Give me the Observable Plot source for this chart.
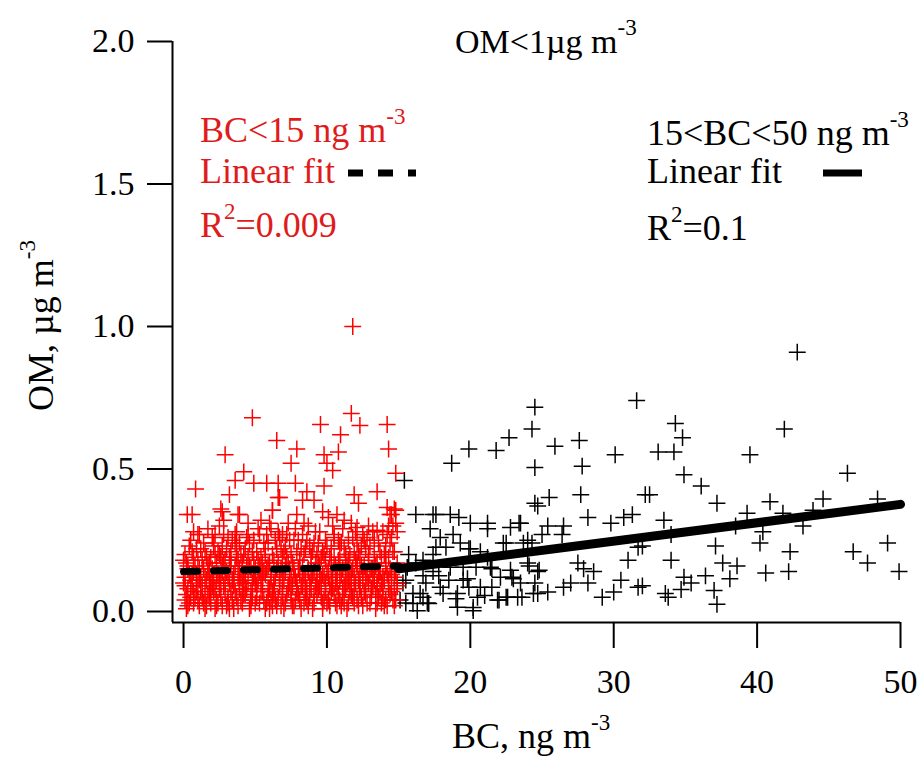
<!DOCTYPE html>
<html><head><meta charset="utf-8">
<script src="https://cdn.jsdelivr.net/npm/d3@7"></script>
<script src="https://cdn.jsdelivr.net/npm/@observablehq/plot@0.6"></script>
<style>body{margin:0;background:#fff;} svg{display:block;}</style>
</head><body><div id="chart"></div>
<script>
// ---- data (BC ng m-3, OM ug m-3) ----
const xTicks = [0, 10, 20, 30, 40, 50];
const yTicks = [0.0, 0.5, 1.0, 1.5, 2.0];

// red group (BC < 15): high points
const redHigh = [[11.8,1.0],[4.8,0.68],[11.7,0.695],[12.3,0.653],[9.55,0.656],[14.2,0.656],[10.95,0.62],[6.5,0.60],[7.9,0.57],[9.8,0.55],[14.3,0.57],[2.9,0.55],[10.8,0.56],[7.5,0.52],[10.0,0.52],[4.2,0.49],[10.4,0.495],[14.8,0.485],[0.84,0.43],[3.6,0.46],[4.9,0.45],[5.8,0.45],[6.6,0.45],[7.8,0.45],[8.6,0.42],[9.8,0.44],[11.9,0.41],[13.5,0.42],[3.2,0.41],[6.6,0.40],[8.3,0.39],[9.1,0.39],[12.2,0.38],[0.26,0.34],[2.6,0.36],[3.8,0.34],[6.2,0.355],[7.9,0.34],[9.7,0.35],[10.7,0.34],[14.2,0.365],[14.8,0.355],[14.4,0.34],[0.7,0.28],[2.8,0.32],[5.4,0.32],[8.4,0.31],[11.2,0.32],[12.1,0.295],[13.5,0.285],[0.6,0.34],[2.7,0.35],[3.9,0.34],[6.7,0.40],[6.2,0.355],[1.0,0.27],[2.2,0.27],[3.6,0.27],[6.0,0.31],[6.9,0.27]];
// red group: dense band, columns of [BC, [OM...]]
const redBand = [
[0.1,[0.04,0.12,0.20,0.09]],[0.3,[0.08,0.16,0.02,0.15]],[0.5,[0.11,0.05,0.25]],[0.7,[0.14,0.03,0.19,0.07]],
[0.9,[0.07,0.22,0.10,0.13]],[1.1,[0.02,0.15,0.27,0.11]],[1.3,[0.09,0.18,0.05]],[1.5,[0.12,0.21,0.01,0.06]],
[1.7,[0.06,0.16,0.29,0.14]],[1.9,[0.10,0.03,0.19,0.08]],[2.1,[0.13,0.24,0.07,0.23]],[2.3,[0.04,0.17,0.11,0.02]],
[2.5,[0.20,0.08,0.30,0.12]],[2.7,[0.02,0.14,0.23,0.16]],[2.9,[0.10,0.18,0.06]],[3.1,[0.12,0.26,0.03,0.05]],
[3.3,[0.07,0.16,0.21,0.18]],[3.5,[0.01,0.13,0.09,0.11]],[3.7,[0.19,0.05,0.28,0.23]],[3.9,[0.11,0.15,0.24,0.08]],
[4.1,[0.03,0.08,0.17,0.14]],[4.3,[0.13,0.22,0.06,0.10]],[4.5,[0.10,0.19,0.31,0.27]],[4.7,[0.02,0.15,0.07,0.04]],
[4.9,[0.12,0.25,0.18,0.13]],[5.1,[0.05,0.09,0.21,0.08]],[5.3,[0.14,0.03,0.27,0.16]],[5.5,[0.11,0.17,0.07,0.12]],
[5.7,[0.01,0.20,0.13,0.22]],[5.9,[0.08,0.24,0.16,0.05]],[6.1,[0.04,0.12,0.29,0.11]],[6.3,[0.10,0.18,0.06,0.09]],
[6.5,[0.15,0.02,0.22,0.15]],[6.7,[0.09,0.26,0.13,0.11]],[6.9,[0.05,0.19,0.11,0.07]],[7.1,[0.14,0.03,0.23,0.16]],
[7.3,[0.08,0.17,0.31,0.09]],[7.5,[0.12,0.06,0.20,0.04]],[7.7,[0.02,0.15,0.25,0.13]],[7.9,[0.10,0.21,0.07,0.08]],
[8.1,[0.13,0.04,0.18,0.18]],[8.3,[0.09,0.27,0.16,0.11]],[8.5,[0.05,0.11,0.22,0.07]],[8.7,[0.15,0.02,0.30,0.14]],
[8.9,[0.08,0.19,0.12,0.19]],[9.1,[0.03,0.14,0.24,0.06]],[9.3,[0.11,0.20,0.06,0.10]],[9.5,[0.16,0.09,0.28,0.13]],
[9.7,[0.01,0.13,0.21,0.03]],[9.9,[0.07,0.18,0.25,0.10]],[10.1,[0.12,0.04,0.33,0.15]],[10.3,[0.10,0.16,0.22,0.07]],
[10.5,[0.06,0.19,0.27,0.26]],[10.7,[0.14,0.02,0.09,0.12]],[10.9,[0.11,0.23,0.17,0.04]],[11.1,[0.05,0.15,0.29,0.08]],
[11.3,[0.13,0.08,0.20,0.19]],[11.5,[0.03,0.18,0.25,0.11]],[11.7,[0.10,0.14,0.31,0.06]],[11.9,[0.07,0.21,0.12,0.03]],
[12.1,[0.16,0.04,0.24,0.17]],[12.3,[0.09,0.19,0.13,0.08]],[12.5,[0.02,0.11,0.27,0.14]],[12.7,[0.14,0.06,0.22,0.12]],
[12.9,[0.10,0.18,0.30,0.20]],[13.1,[0.05,0.15,0.08,0.07]],[13.3,[0.12,0.25,0.19,0.11]],[13.5,[0.03,0.10,0.17,0.09]],
[13.7,[0.14,0.21,0.07,0.14]],[13.9,[0.09,0.28,0.12,0.05]],[14.1,[0.04,0.16,0.23,0.17]],[14.3,[0.11,0.19,0.30,0.08]],
[14.5,[0.07,0.14,0.26,0.34,0.13]],[14.7,[0.02,0.12,0.21,0.36,0.08]],[14.9,[0.09,0.17,0.28,0.10]],
[0.2,[0.06,0.17,0.01]],[0.6,[0.09,0.21,0.13]],[1.0,[0.04,0.18,0.09]],[1.4,[0.15,0.24,0.03]],
[1.8,[0.11,0.05,0.17]],[2.2,[0.08,0.20,0.01]],[2.6,[0.05,0.19,0.10]],[3.0,[0.14,0.22,0.02]],
[3.4,[0.04,0.11,0.25]],[3.8,[0.12,0.02,0.18]],[4.2,[0.06,0.20,0.11]],[4.6,[0.16,0.24,0.01]],
[5.0,[0.03,0.15,0.10]],[5.4,[0.07,0.19,0.13]],[5.8,[0.03,0.15,0.27]],[6.2,[0.07,0.20,0.02]],
[6.6,[0.05,0.17,0.28]],[7.0,[0.01,0.11,0.21]],[7.4,[0.10,0.15,0.25]],[7.8,[0.04,0.12,0.29]],
[8.2,[0.01,0.09,0.22]],[8.6,[0.08,0.25,0.04]],[9.0,[0.13,0.21,0.01]],[9.4,[0.08,0.17,0.24]],
[9.8,[0.04,0.12,0.20]],[10.2,[0.02,0.09,0.19]],[10.6,[0.10,0.16,0.03]],[11.0,[0.02,0.13,0.24]],
[11.4,[0.10,0.16,0.01]],[11.8,[0.05,0.15,0.26]],[12.2,[0.02,0.11,0.21]],[12.6,[0.07,0.16,0.25]],
[13.0,[0.03,0.13,0.23]],[13.4,[0.06,0.16,0.01]],[13.8,[0.03,0.10,0.19]],[14.2,[0.02,0.13,0.27]],
[14.6,[0.04,0.21,0.30]],
[0.0,[0.10,0.18]],[0.4,[0.03,0.13,0.23]],[0.8,[0.16,0.05]],[1.2,[0.12,0.22,0.07]],[1.6,[0.02,0.19,0.11]],
[2.0,[0.15,0.09,0.26]],[2.4,[0.03,0.13,0.21]],[2.8,[0.09,0.17,0.27]],[3.2,[0.01,0.10,0.19]],[3.6,[0.07,0.16,0.24]],
[4.0,[0.12,0.20,0.04]],[4.4,[0.08,0.16,0.26]],[4.8,[0.05,0.10,0.21]],[5.2,[0.11,0.18,0.29]],[5.6,[0.04,0.14,0.24]],
[6.0,[0.08,0.17,0.01]],[6.4,[0.12,0.25,0.04]],[6.8,[0.02,0.15,0.22]],[7.2,[0.06,0.19,0.27]],[7.6,[0.09,0.17,0.02]],
[8.0,[0.06,0.15,0.25]],[8.4,[0.03,0.13,0.20]],[8.8,[0.10,0.23,0.05]],[9.2,[0.09,0.17,0.28]],[9.6,[0.05,0.19,0.11]],
[10.0,[0.03,0.14,0.23]],[10.4,[0.08,0.13,0.30]],[10.8,[0.06,0.18,0.25]],[11.2,[0.09,0.22,0.03]],[11.6,[0.07,0.12,0.20]],
[12.0,[0.10,0.18,0.28]],[12.4,[0.05,0.16,0.23]],[12.8,[0.03,0.12,0.26]],[13.2,[0.09,0.15,0.28]],[13.6,[0.05,0.13,0.24]],
[14.0,[0.02,0.11,0.20]],[14.4,[0.06,0.15,0.24]],[14.8,[0.04,0.14,0.31]]
];
// black group (15 < BC < 50)
const blackPts = [[24.5,0.717],[31.6,0.74],[24.3,0.64],[22.7,0.61],[19.9,0.57],[21.8,0.565],[25.9,0.58],[27.6,0.60],[30.1,0.55],[18.7,0.52],[24.5,0.505],[27.8,0.51],[15.4,0.46],[32.2,0.41],[25.5,0.40],[24.7,0.37],[27.7,0.41],[31.3,0.34],
[42.8,0.91],[34.3,0.66],[34.8,0.61],[33.1,0.56],[34.2,0.56],[41.9,0.64],[39.5,0.55],[34.9,0.48],[36.1,0.44],[32.5,0.41],[46.3,0.485],[37.2,0.38],[40.9,0.385],[44.6,0.395],[48.4,0.395],[39.3,0.345],[41.8,0.345],[43.9,0.355],[33.5,0.32],[38.5,0.30],[43.2,0.30],[34.0,0.27],[40.4,0.28],[37.1,0.23],[40.2,0.24],[49.1,0.24],[42.3,0.21],[46.7,0.21],[47.7,0.17],[34.0,0.18],[37.6,0.17],[38.6,0.16],[49.9,0.14],[40.6,0.135],[42.2,0.14],[34.9,0.12],[36.4,0.125],[38.1,0.115],[35.4,0.10],[34.7,0.077],[33.6,0.063],[33.8,0.05],[37.0,0.074],[37.2,0.025],[32.0,0.23],[32.0,0.09],
[16.2,0.34],[17.4,0.34],[18.6,0.34],[19.2,0.33],[20.0,0.31],[21.2,0.31],[23.4,0.31],[28.2,0.33],[17.2,0.29],[25.4,0.30],[26.5,0.30],[29.8,0.31],[30.7,0.33],[17.9,0.26],[21.2,0.29],[22.8,0.295],[24.0,0.25],[26.4,0.27],[19.3,0.24],[20.0,0.22],[22.3,0.24],[15.7,0.20],[16.7,0.18],[31.7,0.225],[31.0,0.18],[27.5,0.17],[27.9,0.15],[28.6,0.14],[17.4,0.14],[18.6,0.155],[19.8,0.115],[21.4,0.155],[22.1,0.12],[23.0,0.115],[24.0,0.17],[24.7,0.14],[27.0,0.10],[28.2,0.10],[30.5,0.11],[31.7,0.085],[29.2,0.05],[30.0,0.068],[15.3,0.10],[16.5,0.063],[17.9,0.085],[19.1,0.063],[20.5,0.05],[21.9,0.04],[23.3,0.05],[24.4,0.063],[25.4,0.068],[26.5,0.085],[20.2,0.003],[16.3,0.003],[17.0,0.03],[15.5,0.03],[19.1,0.015],[22.6,0.05],[20.7,0.085],[17.4,0.20],[15.6,0.155],[16.7,0.125],
[17.6,0.34],[23.5,0.31],[24.5,0.38],[25.0,0.27],[18.8,0.27],[22.5,0.24],[23.7,0.24],[24.3,0.24],[17.6,0.225],[18.3,0.225],[19.9,0.22],[20.7,0.21],[21.2,0.19],[16.2,0.17],[17.8,0.125],[19.5,0.155],[20.4,0.155],[21.5,0.15],[22.8,0.145],[24.1,0.16],[24.8,0.145],[15.5,0.11],[16.9,0.10],[18.5,0.11],[19.5,0.11],[19.9,0.085],[21.5,0.085],[22.9,0.12],[23.5,0.10],[24.5,0.10],[16.0,0.063],[16.7,0.05],[17.1,0.028],[18.1,0.063],[19.0,0.045],[20.2,0.014],[21.0,0.056],[22.0,0.04],[22.5,0.05],[23.6,0.05],[24.7,0.063],[16.0,0.028],[15.1,0.04]];

// linear fits
const fitRedBC = [0, 15], fitRedOM = [0.14, 0.16];
const fitBlackBC = [15, 50], fitBlackOM = [0.15, 0.376];

// ---- build ----
const red = redHigh.map(([x,y]) => ({x,y}));
redBand.forEach(([x, ys]) => ys.forEach(y => red.push({x, y})));
const black = blackPts.map(([x,y]) => ({x,y}));
const fitRed = fitRedBC.map((x,i) => ({x, y: fitRedOM[i]}));
const fitBlack = fitBlackBC.map((x,i) => ({x, y: fitBlackOM[i]}));

const xMin = -0.77, yMin = -0.0386;
const FONT = "'Liberation Serif', 'Times New Roman', serif";

const plot = Plot.plot({
  width: 922, height: 758,
  marginLeft: 172, marginRight: 22, marginTop: 41, marginBottom: 136,
  style: {fontFamily: FONT, background: "white", color: "black"},
  x: {domain: [xMin, 50]},
  y: {domain: [yMin, 2]},
  marks: [
    Plot.axisX({ticks: xTicks, tickSize: 26, tickPadding: 20, fontSize: 34, label: null, tickFormat: d => String(d), strokeWidth: 2}),
    Plot.axisY({ticks: yTicks, tickSize: 25, tickPadding: 13, fontSize: 34, label: null, tickFormat: d3.format(".1f"), strokeWidth: 2}),
    Plot.ruleX([xMin], {y1: yMin, y2: 2, stroke: "black", strokeWidth: 2}),
    Plot.ruleY([yMin], {x1: xMin, x2: 50, stroke: "black", strokeWidth: 2}),
    Plot.dot(black, {x: "x", y: "y", symbol: "plus", r: 5.5, stroke: "black", strokeWidth: 1.5}),
    Plot.dot(red, {x: "x", y: "y", symbol: "plus", r: 5.5, stroke: "#ff0000", strokeWidth: 1.5}),
    Plot.line(fitRed, {x: "x", y: "y", stroke: "black", strokeWidth: 7, strokeDasharray: "14,16"}),
    Plot.line(fitBlack, {x: "x", y: "y", stroke: "black", strokeWidth: 9})
  ]
});
document.getElementById("chart").appendChild(plot);

// ---- annotations ----
const svg = d3.select(plot);
const RED = "#e01b1b";
function addText(x, y, parts, color, size, rotate) {
  const t = svg.append("text").attr("x", x).attr("y", y)
    .attr("text-anchor", "start")
    .attr("fill", color).attr("font-family", FONT).attr("font-size", size);
  if (rotate) t.attr("transform", `rotate(${rotate},${x},${y})`);
  let raised = false;
  parts.forEach(([s, sup]) => {
    const ts = t.append("tspan").text(s);
    if (sup && !raised) { ts.attr("dy", -18).attr("font-size", 23); raised = true; }
    else if (sup) { ts.attr("font-size", 23); }
    else if (!sup && raised) { ts.attr("dy", 18); raised = false; }
  });
  return t;
}
addText(455, 53, [["OM<1\u00b5g m"], ["-3", true]], "black", 34);
addText(200, 142, [["BC<15 ng m"], ["-3", true]], RED, 36);
addText(200, 183, [["Linear fit"]], RED, 36);
addText(200, 237, [["R"], ["2", true], ["=0.009"]], RED, 36);
addText(647, 145, [["15<BC<50 ng m"], ["-3", true]], "black", 36);
addText(647, 183, [["Linear fit"]], "black", 36);
addText(647, 240, [["R"], ["2", true], ["=0.1"]], "black", 36);
// legend samples
svg.append("line").attr("x1", 348).attr("x2", 416).attr("y1", 173).attr("y2", 173)
  .attr("stroke", "black").attr("stroke-width", 7).attr("stroke-dasharray", "15,15");
svg.append("line").attr("x1", 823).attr("x2", 862).attr("y1", 173).attr("y2", 173)
  .attr("stroke", "black").attr("stroke-width", 7);
// axis titles
addText(452, 748, [["BC, ng m"], ["-3", true]], "black", 36);
addText(53, 411, [["OM, \u00b5g m"], ["-3", true]], "black", 36, -90);
</script></body></html>
